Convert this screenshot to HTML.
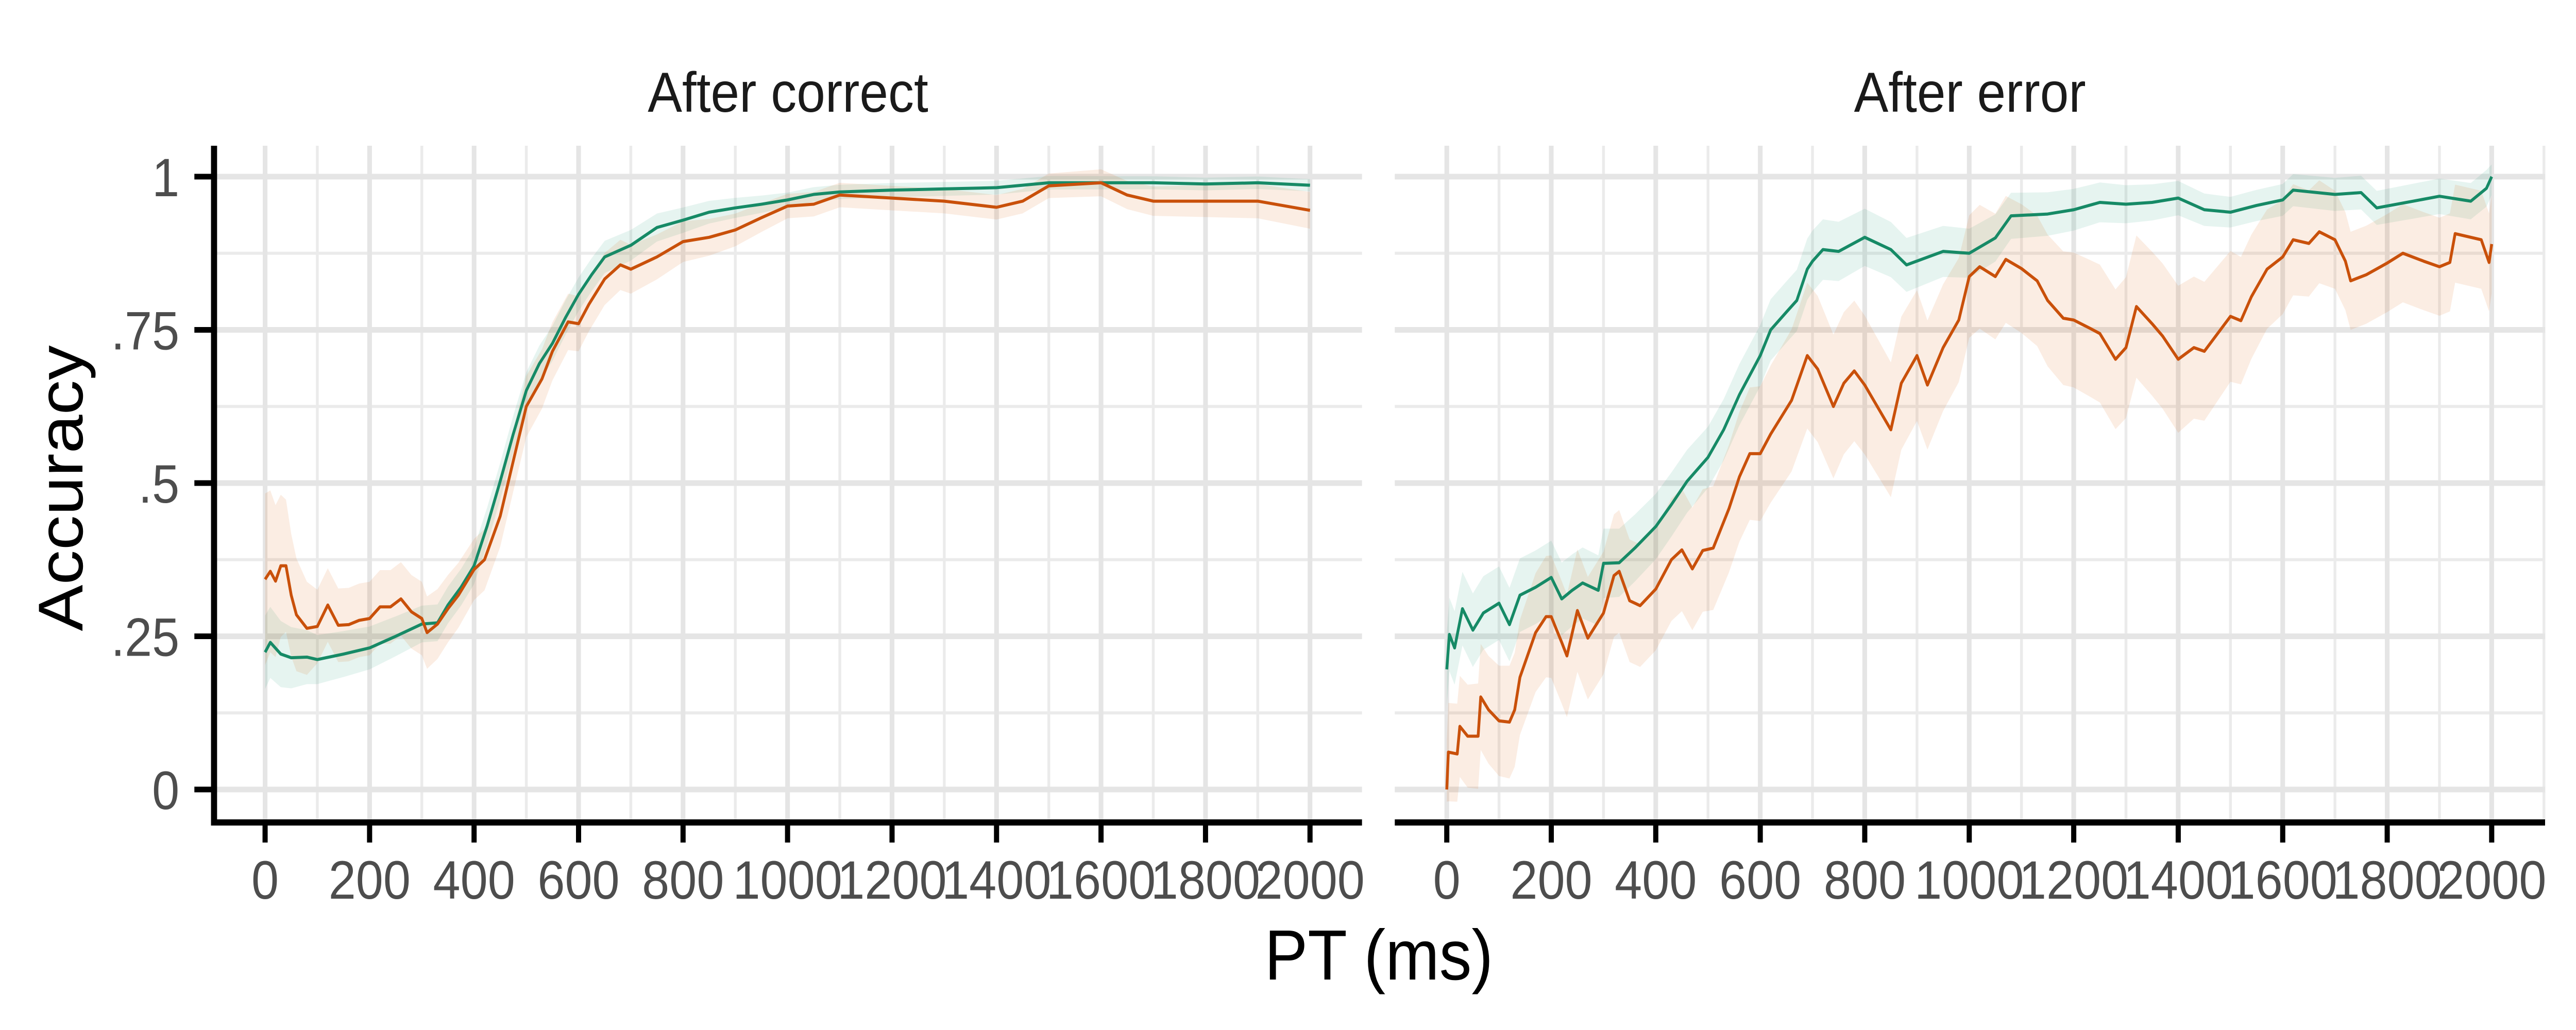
<!DOCTYPE html>
<html><head><meta charset="utf-8"><style>
html,body{margin:0;padding:0;background:#fff;width:100%;height:100%;overflow:hidden;}
svg{display:block;font-family:"Liberation Sans",Arial,sans-serif;width:100vw;height:100vh;}
</style></head><body>
<svg id="chart" viewBox="0 0 5500 2000" preserveAspectRatio="none" xmlns="http://www.w3.org/2000/svg" overflow="hidden">
<rect width="5500" height="2000" fill="#fff"/>
<g id="panels"></g>
<text x="130" y="948" transform="rotate(-90 130 948)" text-anchor="middle" dominant-baseline="central" font-size="135" fill="#000">Accuracy</text>
<text x="2944" y="1902" text-anchor="middle" font-size="138" fill="#000">PT (ms)</text>
</svg>
<script>
// ---- data: After correct ----
const gACt=[0,10,30,50,80,100,150,200,250,280,300,330,350,375,400,425,450,475,500,525,550,575,600,625,650,700,750,800,850,900,950,1000,1050,1100,1200,1300,1400,1500,1600,1700,1800,1900,2000];
const gACv=[.224,.24,.221,.215,.216,.212,.221,.231,.25,.262,.27,.272,.301,.33,.365,.43,.503,.58,.651,.695,.728,.77,.808,.84,.869,.888,.917,.929,.942,.949,.955,.962,.971,.975,.978,.98,.982,.99,.99,.99,.988,.99,.986];
const rACt=[0,10,20,30,40,50,60,80,100,120,140,160,180,200,220,240,260,280,300,310,330,350,370,400,420,450,480,500,530,550,580,600,620,650,680,700,750,800,850,900,950,1000,1050,1100,1200,1300,1400,1450,1500,1600,1650,1700,1800,1900,2000];
const rACv=[.343,.356,.34,.365,.365,.317,.285,.263,.266,.301,.268,.269,.276,.279,.298,.298,.311,.29,.279,.256,.27,.295,.317,.359,.375,.446,.554,.625,.67,.715,.763,.76,.792,.833,.856,.849,.869,.894,.901,.913,.933,.952,.955,.97,.965,.96,.95,.96,.985,.99,.97,.96,.96,.96,.945];
// ---- data: After error ----
const gAEt=[0,5,15,30,50,70,100,120,140,170,200,220,240,260,290,300,330,360,400,430,460,500,530,560,580,600,620,650,670,690,700,720,750,800,850,880,950,1000,1050,1080,1150,1200,1250,1300,1350,1400,1450,1500,1550,1600,1620,1700,1750,1780,1850,1900,1960,1990,2000];
const gAEv=[.196,.253,.231,.295,.26,.288,.304,.269,.317,.33,.346,.311,.325,.337,.325,.369,.37,.394,.429,.465,.503,.542,.587,.644,.676,.708,.75,.779,.798,.849,.862,.881,.878,.901,.881,.856,.878,.875,.9,.936,.939,.946,.958,.955,.958,.965,.946,.942,.953,.962,.978,.971,.974,.949,.96,.968,.96,.981,1.0];
const rAEt=[0,3,20,25,40,60,65,80,100,120,130,140,170,190,200,220,230,250,270,300,320,330,350,370,400,430,450,470,490,510,540,560,580,600,620,660,690,710,740,760,780,800,850,870,900,920,950,980,1000,1020,1050,1070,1100,1130,1150,1180,1200,1230,1250,1280,1300,1320,1350,1370,1400,1430,1450,1500,1520,1540,1570,1600,1620,1650,1670,1700,1720,1730,1760,1800,1830,1870,1900,1920,1930,1980,1995,2000];
const rAEv=[0,.061,.058,.103,.087,.087,.151,.13,.112,.11,.13,.183,.256,.282,.282,.24,.218,.292,.247,.288,.349,.356,.308,.3,.327,.375,.391,.36,.39,.394,.458,.51,.548,.548,.58,.635,.708,.686,.625,.663,.683,.66,.587,.663,.708,.66,.721,.766,.837,.853,.837,.865,.85,.83,.798,.769,.766,.753,.744,.702,.721,.788,.76,.74,.702,.721,.715,.772,.765,.804,.849,.869,.897,.891,.91,.897,.862,.83,.84,.859,.875,.862,.853,.86,.907,.897,.86,.89];
// ---- confidence band half-widths ----
const gACciT=[0,100,300,400,500,700,1000,2000];
const gACci=[.06,.04,.03,.03,.03,.025,.012,.01];
const rACciT=[0,50,100,300,400,500,700,1000,1500,2000];
const rACci=[.14,.1,.06,.06,.05,.05,.04,.02,.02,.03];
const gAEciT=[0,200,500,700,1000,1500,2000];
const gAEci=[.06,.06,.05,.05,.04,.025,.03];
const rAEciT=[0,200,500,700,1000,1400,1700,2000];
const rAEci=[.08,.1,.1,.12,.1,.12,.08,.08];
const xTicks=[0,200,400,600,800,1000,1200,1400,1600,1800,2000];
const yTicks=[0,.25,.5,.75,1];
const yTickLabels=["0",".25",".5",".75","1"];
const panelTitles=["After correct","After error"];

const NS="http://www.w3.org/2000/svg";
const root=document.getElementById('panels');
function mk(tag,attrs,parent){const e=document.createElementNS(NS,tag);for(const k in attrs)e.setAttribute(k,attrs[k]);(parent||root).appendChild(e);return e;}
const Y0=1533,Y1=343;
function yS(v){return Y0+(Y1-Y0)*v;}
function interp(ts,vs,t){for(let i=1;i<ts.length;i++){if(t<=ts[i]){const f=(t-ts[i-1])/(ts[i]-ts[i-1]);return vs[i-1]+f*(vs[i]-vs[i-1]);}}return vs[vs.length-1];}

const panels=[
 {x0:566,left:457,right:2908,title:panelTitles[0],series:[[gACt,gACv,gACciT,gACci,'#1b9e77'],[rACt,rACv,rACciT,rACci,'#d95f02']],yaxis:true},
 {x0:3089,left:2978,right:5434,title:panelTitles[1],series:[[gAEt,gAEv,gAEciT,gAEci,'#1b9e77'],[rAEt,rAEv,rAEciT,rAEci,'#d95f02']],yaxis:false}
];
const lineCols=['#168a66','#c9500a'];
panels.forEach((p,pi)=>{
  const xS=t=>p.x0+(t/2000)*2231;
  const g=mk('g',{});
  
  
  for(let t=100;t<=2100;t+=200){const x=xS(t);if(x<p.right){const l=mk('line',{x1:x,x2:x,y1:283,y2:1593,stroke:'#ebebeb','stroke-width':6},g);}}
  for(let v=.125;v<1.1;v+=.25){const l=mk('line',{x1:p.left,x2:p.right,y1:yS(v),y2:yS(v),stroke:'#ebebeb','stroke-width':6},g);}
  xTicks.forEach(t=>{const l=mk('line',{x1:xS(t),x2:xS(t),y1:283,y2:1593,stroke:'#e5e5e5','stroke-width':10},g);});
  yTicks.forEach(v=>{const l=mk('line',{x1:p.left,x2:p.right,y1:yS(v),y2:yS(v),stroke:'#e5e5e5','stroke-width':11},g);});
  p.series.forEach((s,si)=>{
    const [ts,vs,ct,cv,col]=s;
    let up=[],dn=[];
    ts.forEach((t,i)=>{const h=interp(ct,cv,t);up.push(xS(t)+','+yS(Math.min(1.02,vs[i]+h)));dn.unshift(xS(t)+','+yS(Math.max(-0.02,vs[i]-h)));});
    const b=mk('polygon',{points:up.concat(dn).join(' '),fill:col,'fill-opacity':0.11},g);
    
    
  });
  p.series.forEach((s,si)=>{
    const [ts,vs]=s;
    const pts=ts.map((t,i)=>xS(t)+','+yS(vs[i])).join(' ');
    const l=mk('polyline',{points:pts,fill:'none',stroke:lineCols[si],'stroke-width':6,'stroke-linejoin':'round'},g);
    
    
  });
  const ax=mk('line',{x1:p.left,x2:p.right,y1:1597,y2:1597,stroke:'#000','stroke-width':12},g);
  
  
  xTicks.forEach(t=>{
    const tk=mk('line',{x1:xS(t),x2:xS(t),y1:1597,y2:1636,stroke:'#000','stroke-width':11},g);
    
    
    const tx=mk('text',{x:xS(t),y:1745,'text-anchor':'middle','font-size':105,fill:'#4d4d4d'},g);
    tx.textContent=String(t);
    
    
  });
  if(p.yaxis){
    const ay=mk('line',{x1:p.left,x2:p.left,y1:283,y2:1603,stroke:'#000','stroke-width':13},g);
    
    
    yTicks.forEach((v,i)=>{
      const tk=mk('line',{x1:415,x2:p.left,y1:yS(v),y2:yS(v),stroke:'#000','stroke-width':11},g);
      
      
      const tx=mk('text',{x:383,y:yS(v)+38,'text-anchor':'end','font-size':105,fill:'#4d4d4d'},g);
      tx.textContent=yTickLabels[i];
      
      
    });
  }
  const tt=mk('text',{x:(p.left+p.right)/2,y:217,'text-anchor':'middle','font-size':110,fill:'#1a1a1a'},g);
  tt.textContent=p.title;
  
  
});
</script>
</body></html>
